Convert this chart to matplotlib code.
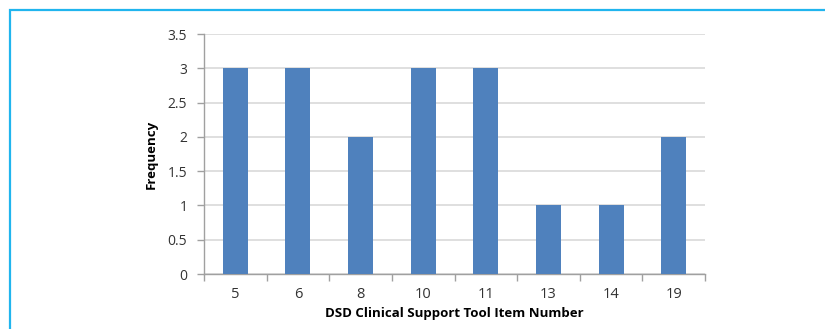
import numpy as np
import matplotlib.pyplot as plt
from matplotlib.patches import Rectangle

# Data
items = ['5', '6', '8', '10', '11', '13', '14', '19']
frequency = [3, 3, 2, 3, 3, 1, 1, 2]

plt.rcParams['font.family'] = ['Open Sans', 'DejaVu Sans']

fig = plt.figure(figsize=(8.25, 3.29), dpi=100)
W, H = 825, 329

# Frame around the figure (cut off at right and bottom)
fig.patches.append(Rectangle((10 / W, -0.1), 1.2, 1 - 10 / H + 0.1,
                             transform=fig.transFigure, fill=False,
                             edgecolor='#21b5ee', linewidth=1.6))

ax = fig.add_axes([204 / W, 1 - 274 / H, (705 - 204) / W, (274 - 34) / H])

x = np.arange(len(items))
ax.bar(x, frequency, width=0.4, color='#4f81bd', zorder=3)

ax.set_xlim(-0.5, len(items) - 0.5)
ax.set_ylim(0, 3.5)
ax.set_yticks(np.arange(0, 3.51, 0.5))
ax.set_yticklabels(['0', '0.5', '1', '1.5', '2', '2.5', '3', '3.5'])
ax.yaxis.grid(True, color='#d9d9d9', linewidth=1.2, zorder=0)

# x ticks between categories, labels at centres
ax.set_xticks(np.arange(-0.5, len(items)), minor=False)
ax.set_xticklabels([])
ax.set_xticks(x, minor=True)
ax.set_xticklabels(items, minor=True)
ax.tick_params(axis='x', which='major', length=5, color='#a0a0a0', width=1)
ax.tick_params(axis='x', which='minor', length=0, pad=9, labelsize=10.5, labelcolor='#333333')
ax.tick_params(axis='y', length=5, color='#a0a0a0', width=1, labelsize=10, labelcolor='#333333', pad=7)

for s in ['top', 'right']:
    ax.spines[s].set_visible(False)
for s in ['left', 'bottom']:
    ax.spines[s].set_color('#a0a0a0')
    ax.spines[s].set_linewidth(1)

ax.set_xlabel('DSD Clinical Support Tool Item Number', fontsize=9.5,
              fontweight='bold', labelpad=4)
ax.set_ylabel('Frequency', fontsize=9.5, fontweight='bold', labelpad=7)

fig.savefig('out.png', dpi=100, facecolor='white')
